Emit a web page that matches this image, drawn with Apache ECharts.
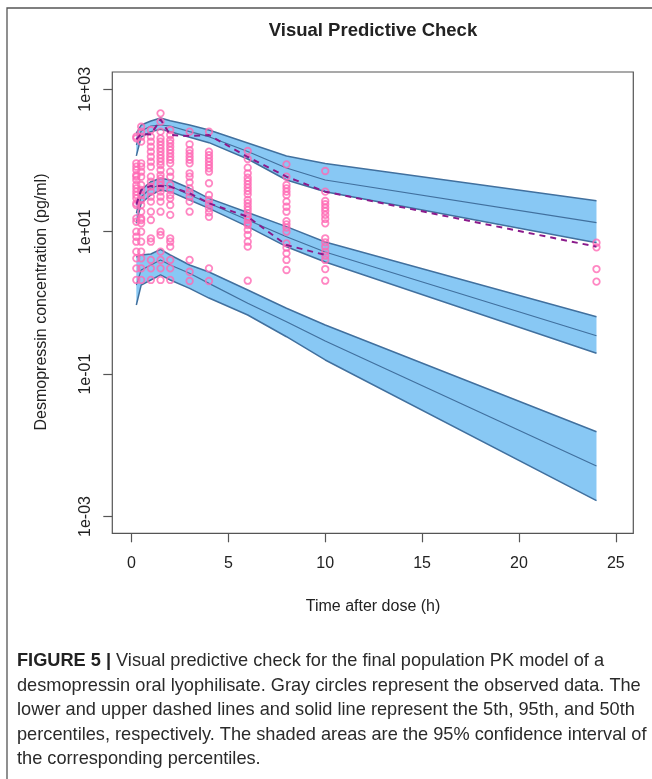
<!DOCTYPE html>
<html><head><meta charset="utf-8">
<script src="https://cdn.jsdelivr.net/npm/echarts@6/dist/echarts.min.js"></script>
<style>html,body{margin:0;padding:0;background:#fff}#c{width:652px;height:779px}</style>
</head><body><div id="c"></div>
<script>
// ---- tick labels ----
const xTicks = [0, 5, 10, 15, 20, 25];
const yTickValues = [0.001, 0.1, 10, 1000];
const yTickLabels = ['1e-03', '1e-01', '1e+01', '1e+03'];

// ---- simulated prediction intervals (95% CI of percentiles) ----
const simTimes = [0.25, 0.5, 1, 1.5, 2, 3, 4, 6, 8, 10, 24];
const p95Upper = [243, 315, 359, 395, 362, 315, 268, 176, 116, 91, 27.3];
const p95Median = [165, 260, 305, 315, 305, 254, 216, 134, 78.5, 53.2, 13.4];
const p95Lower = [116, 214, 254, 274, 254, 212, 178, 105, 53.2, 36.5, 7.0];
const p50Upper = [25.1, 38.5, 50.4, 56.2, 53.2, 40.7, 29.4, 18.6, 11.8, 7.17, 0.64];
const p50Median = [18.3, 30.7, 41.1, 45.3, 43.8, 32.8, 25.1, 14.6, 8.5, 5.19, 0.346];
const p50Lower = [13.1, 25.1, 32.8, 38.5, 36.5, 27.9, 21.3, 11.8, 6.16, 3.75, 0.196];
const p5Upper = [4.41, 4.71, 4.86, 5.66, 4.71, 3.41, 2.72, 1.52, 0.84, 0.49, 0.0155];
const p5Median = [1.78, 2.90, 3.41, 4.0, 3.41, 2.61, 1.88, 0.99, 0.545, 0.292, 0.00512];
const p5Lower = [0.935, 1.78, 2.10, 2.47, 2.10, 1.60, 1.17, 0.676, 0.335, 0.158, 0.00167];

// ---- observed percentiles (dashed) ----
const obsP95Times = [0.25, 0.5, 1, 1.5, 2, 3, 4, 6, 8, 10, 24];
const obsP95 = [199, 236, 232, 377, 228, 221, 228, 112, 59.2, 36.5, 6.16];
const obsP50Times = [0.25, 0.5, 1, 1.5, 2, 3, 4, 6, 8, 10];
const obsP50 = [24, 38.5, 44, 44, 42.9, 34.6, 25.1, 16.2, 6.5, 4.71];

// ---- observed data (pg/ml) by sampling time ----
const obsTimes = [0.25, 0.5, 1, 1.5, 2, 3, 4, 6, 8, 10, 24];
const obsAt0_25 = [216, 205, 91.4, 81.8, 73.6, 62.5, 59.2, 53.2, 45.3, 40.7, 36.5, 32.8, 29.4, 25.1, 23.7, 15.4, 13.8, 10, 8.5, 7.24, 5.24, 4.23, 3.06, 2.1];
const obsAt0_5 = [298, 254, 216, 184, 91.4, 81.8, 69.6, 59.2, 45.3, 38.5, 32.8, 27.9, 23.7, 19.1, 15.4, 14.6, 13.1, 10, 7.24, 5.24, 4.23, 3.06, 2.1];
const obsAt1 = [268, 216, 184, 156, 133, 113, 96.2, 81.8, 59.2, 50.4, 42.9, 36.5, 31.0, 26.4, 19.1, 14.6, 8.08, 7.24, 4.01, 3.06, 2.1];
const obsAt1_5 = [460, 351, 254, 205, 184, 165, 148, 133, 119, 107, 96.2, 86.5, 73.6, 62.5, 56.2, 50.4, 45.3, 40.7, 36.5, 31.0, 26.4, 19.1, 10, 8.99, 5.24, 4.01, 3.06, 2.1];
const obsAt2 = [268, 228, 194, 175, 156, 140, 126, 113, 102, 91.4, 69.6, 59.2, 45.3, 38.5, 32.8, 29.4, 23.7, 17.2, 8.08, 7.24, 6.16, 4.01, 3.06, 2.1];
const obsAt3 = [254, 169, 140, 126, 113, 102, 91.4, 66.1, 59.2, 49.4, 40.7, 35.7, 31.0, 26.4, 19.1, 4.01, 2.74, 2.03];
const obsAt4 = [254, 133, 119, 107, 96.2, 86.5, 77.7, 69.6, 47.9, 32.8, 27.9, 24.3, 21.3, 18.7, 16.2, 3.06, 2.03];
const obsAt6 = [136, 105, 79.3, 66.1, 57.3, 51.5, 46.3, 41.5, 37.3, 33.5, 27.9, 25.1, 22.4, 20.2, 18.1, 16.2, 14.6, 13.1, 12.4, 10.6, 8.99, 7.24, 6.16, 2.05];
const obsAt8 = [88.4, 59.2, 45.3, 40.7, 36.5, 32.8, 26.4, 22.4, 19.1, 14.1, 12.7, 11.4, 10, 6.87, 5.96, 4.97, 4.01, 2.9];
const obsAt10 = [71.2, 36.5, 27.0, 24.3, 21.7, 19.5, 17.2, 15.1, 13.1, 8.08, 7.10, 6.16, 5.24, 4.6, 4.01, 2.99, 2.05];
const obsAt24 = [7.01, 6.04, 2.99, 1.99];
const obsColumns = [obsAt0_25, obsAt0_5, obsAt1, obsAt1_5, obsAt2, obsAt3, obsAt4, obsAt6, obsAt8, obsAt10, obsAt24];

// ---- texts ----
const titleText = 'Visual Predictive Check';
const xName = 'Time after dose (h)';
const yName = 'Desmopressin concentration (pg/ml)';
const captionLines = [
  '{b|FIGURE 5 |} Visual predictive check for the final population PK model of a',
  'desmopressin oral lyophilisate. Gray circles represent the observed data. The',
  'lower and upper dashed lines and solid line represent the 5th, 95th, and 50th',
  'percentiles, respectively. The shaded areas are the 95% confidence interval of',
  'the corresponding percentiles.'
];

// ---- styles ----
const FONT = "'Liberation Sans', Arial, Helvetica, sans-serif";
const BAND_FILL = '#88C8F4';
const BAND_LINE = '#41709E';
const PINK = '#FF69B4';
const PURPLE = '#8B1A8B';
const TXT = '#222';
const CAP_SIZE = 18.2;

const pairs = (ts, vs) => ts.map((t, i) => [t, vs[i]]);

function bandPolygon(upper, lower) {
  return {
    type: 'custom', coordinateSystem: 'cartesian2d', silent: true, z: 1,
    data: [[simTimes[0], upper[0]]],
    renderItem(params, api) {
      const pts = [];
      for (let i = 0; i < simTimes.length; i++) pts.push(api.coord([simTimes[i], upper[i]]));
      for (let i = simTimes.length - 1; i >= 0; i--) pts.push(api.coord([simTimes[i], lower[i]]));
      return { type: 'polygon', shape: { points: pts }, style: { fill: BAND_FILL, stroke: null } };
    }
  };
}
function bandLine(vals, w) {
  return {
    type: 'line', data: pairs(simTimes, vals), symbol: 'none', silent: true, z: 2,
    lineStyle: { color: BAND_LINE, width: w }
  };
}

const scatterData = [];
obsColumns.forEach((col, i) => col.forEach(v => scatterData.push([obsTimes[i], v])));

const series = [
  bandPolygon(p95Upper, p95Lower),
  bandPolygon(p50Upper, p50Lower),
  bandPolygon(p5Upper, p5Lower),
  bandLine(p95Upper, 1.5), bandLine(p95Median, 1.2), bandLine(p95Lower, 1.5),
  bandLine(p50Upper, 1.5), bandLine(p50Median, 1.2), bandLine(p50Lower, 1.5),
  bandLine(p5Upper, 1.5), bandLine(p5Median, 1.2), bandLine(p5Lower, 1.5),
  {
    type: 'scatter', data: scatterData, symbol: 'circle', symbolSize: 6.5, z: 3, silent: true,
    itemStyle: { color: 'rgba(255,255,255,0)', borderColor: PINK, borderWidth: 1.8 }
  },
  {
    type: 'line', data: pairs(obsP95Times, obsP95), symbol: 'none', z: 4, silent: true,
    lineStyle: { color: PURPLE, width: 2, type: [6, 5] }
  },
  {
    type: 'line', data: pairs(obsP50Times, obsP50), symbol: 'none', z: 4, silent: true,
    lineStyle: { color: PURPLE, width: 2, type: [6, 5] }
  }
];

const graphics = [
  { type: 'rect', shape: { x: 7, y: 8, width: 720, height: 820 }, style: { fill: null, stroke: '#555', lineWidth: 1.3 }, z: 0 },
  { type: 'text', x: 373, y: 31, style: { text: titleText, font: "bold 18.5px " + FONT, fill: TXT, textAlign: 'center', textVerticalAlign: 'middle' } },
  { type: 'text', x: 373, y: 607, style: { text: xName, font: "16px " + FONT, fill: TXT, textAlign: 'center', textVerticalAlign: 'middle' } },
  { type: 'text', x: 42, y: 302, rotation: Math.PI / 2, style: { text: yName, font: "16px " + FONT, fill: TXT, textAlign: 'center', textVerticalAlign: 'middle' } }
];
const capY = [661, 685.5, 710, 734.5, 759];
captionLines.forEach((line, i) => {
  graphics.push({
    type: 'text', x: 17, y: capY[i],
    style: {
      text: line, font: CAP_SIZE + "px " + FONT, fill: '#2a2a2a', textAlign: 'left', textVerticalAlign: 'middle',
      rich: { b: { fontWeight: 'bold', fontSize: CAP_SIZE, fontFamily: FONT, fill: '#222' } }
    }
  });
});

const chart = echarts.init(document.getElementById('c'), null, { renderer: 'canvas' });
chart.setOption({
  animation: false,
  backgroundColor: '#fff',
  grid: { left: 112.3, top: 72, width: 521, height: 461.3, show: true, borderColor: '#555', borderWidth: 1.2, backgroundColor: 'rgba(0,0,0,0)' },
  xAxis: {
    type: 'value', min: -0.99, max: 25.9,
    splitLine: { show: false },
    axisLine: { show: false, onZero: false },
    axisTick: { show: true, customValues: xTicks, length: 9, lineStyle: { color: '#555', width: 1.2 } },
    axisLabel: { customValues: xTicks, margin: 22, fontSize: 16, fontFamily: FONT, color: TXT }
  },
  yAxis: {
    type: 'log', logBase: 10, min: 0.000581, max: 1750,
    splitLine: { show: false },
    axisLine: { show: false, onZero: false },
    axisTick: { show: true, customValues: yTickValues, length: 9, lineStyle: { color: '#555', width: 1.2 } },
    axisLabel: {
      customValues: yTickValues, rotate: 90, margin: 19, fontSize: 16, fontFamily: FONT, color: TXT,
      formatter: v => { const i = yTickValues.findIndex(t => Math.abs(Math.log10(t) - Math.log10(v)) < 1e-6); return i >= 0 ? yTickLabels[i] : ''; }
    }
  },
  series: series,
  graphic: graphics
});
</script></body></html>
